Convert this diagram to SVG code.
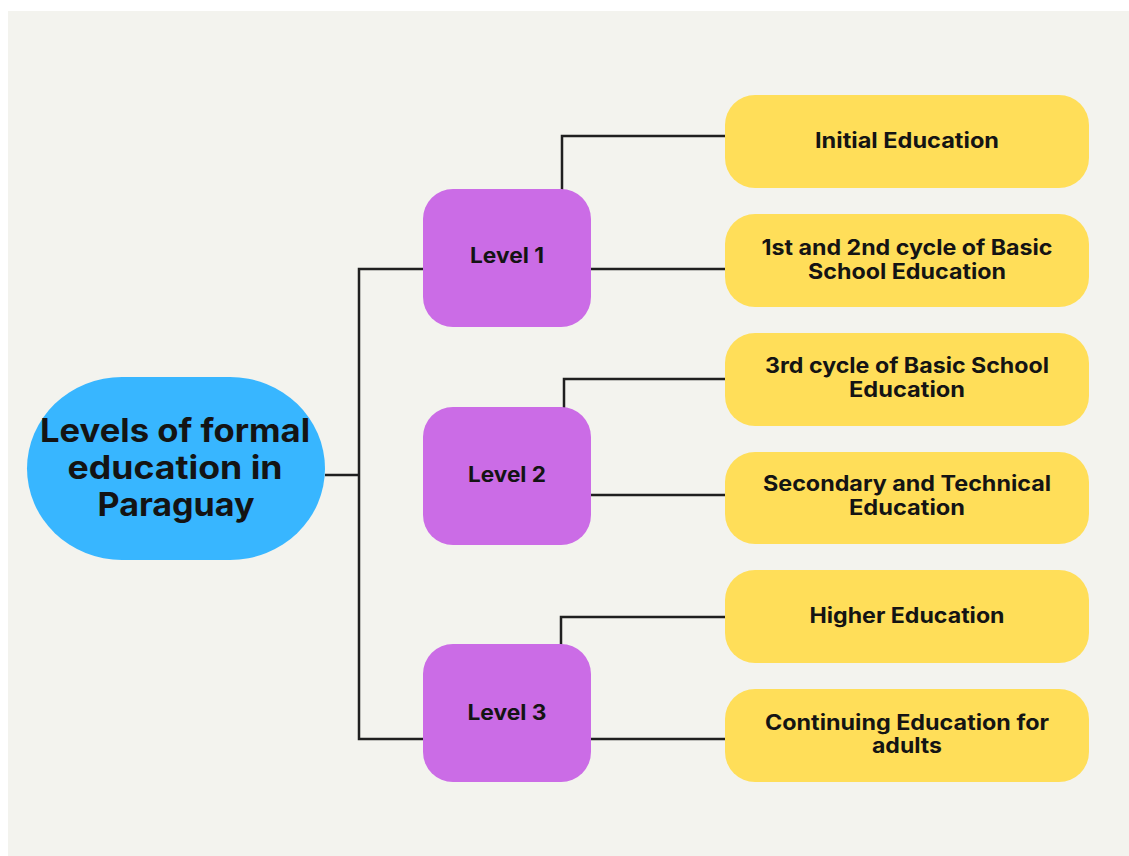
<svg xmlns="http://www.w3.org/2000/svg" width="1129" height="856" viewBox="0 0 1129 856">
  <style>
    .bg { fill: #f3f3ee; }
    .root { fill: #38b6ff; }
    .level { fill: #cb6ce6; }
    .leaf { fill: #ffde59; }
    .link { fill: none; stroke: #1f1f1f; stroke-width: 2.5; stroke-linejoin: miter; }
    text { font-family: "Inter", "DejaVu Sans", "Liberation Sans", sans-serif; font-weight: 700; fill: #141414; text-anchor: middle; }
    .t-root { font-size: 32px; }
    .t-level { font-size: 21px; }
    .t-leaf { font-size: 21px; }
  </style>

  <rect width="1129" height="856" fill="#ffffff"/>
  <rect class="bg" x="8" y="11" width="1121" height="845"/>

  <!-- connectors -->
  <g id="connectors">
    <polyline class="link" points="325,475 359,475"/>
    <polyline class="link" points="424,269 359,269 359,739 424,739"/>
    <polyline class="link" points="562,190 562,136 726,136"/>
    <polyline class="link" points="590,269 726,269"/>
    <polyline class="link" points="564,408 564,379 726,379"/>
    <polyline class="link" points="590,495 726,495"/>
    <polyline class="link" points="561,645 561,617 726,617"/>
    <polyline class="link" points="590,739 726,739"/>
  </g>

  <!-- root -->
  <g id="node-root">
    <rect class="root" x="27" y="377" width="298" height="183" rx="95" ry="91.5"/>
    <text class="t-root" x="175" y="442" textLength="270" lengthAdjust="spacingAndGlyphs">Levels of formal</text>
    <text class="t-root" x="175" y="479" textLength="215" lengthAdjust="spacingAndGlyphs">education in</text>
    <text class="t-root" x="176" y="516" textLength="157" lengthAdjust="spacingAndGlyphs">Paraguay</text>
  </g>

  <!-- levels -->
  <g id="node-level-1">
    <rect class="level" x="423" y="189" width="168" height="138" rx="30"/>
    <text class="t-level" x="507" y="263" textLength="74" lengthAdjust="spacingAndGlyphs">Level 1</text>
  </g>
  <g id="node-level-2">
    <rect class="level" x="423" y="407" width="168" height="138" rx="30"/>
    <text class="t-level" x="507" y="482" textLength="78" lengthAdjust="spacingAndGlyphs">Level 2</text>
  </g>
  <g id="node-level-3">
    <rect class="level" x="423" y="644" width="168" height="138" rx="30"/>
    <text class="t-level" x="507" y="720" textLength="79" lengthAdjust="spacingAndGlyphs">Level 3</text>
  </g>

  <!-- stages -->
  <g id="node-initial">
    <rect class="leaf" x="725" y="95" width="364" height="93" rx="30"/>
    <text class="t-leaf" x="907" y="148" textLength="184" lengthAdjust="spacingAndGlyphs">Initial Education</text>
  </g>
  <g id="node-basic-12">
    <rect class="leaf" x="725" y="214" width="364" height="93" rx="30"/>
    <text class="t-leaf" x="907" y="255" textLength="291" lengthAdjust="spacingAndGlyphs">1st and 2nd cycle of Basic</text>
    <text class="t-leaf" x="907" y="279" textLength="198" lengthAdjust="spacingAndGlyphs">School Education</text>
  </g>
  <g id="node-basic-3">
    <rect class="leaf" x="725" y="333" width="364" height="93" rx="30"/>
    <text class="t-leaf" x="907" y="373" textLength="284" lengthAdjust="spacingAndGlyphs">3rd cycle of Basic School</text>
    <text class="t-leaf" x="907" y="397" textLength="116" lengthAdjust="spacingAndGlyphs">Education</text>
  </g>
  <g id="node-secondary">
    <rect class="leaf" x="725" y="452" width="364" height="92" rx="30"/>
    <text class="t-leaf" x="907" y="491" textLength="288" lengthAdjust="spacingAndGlyphs">Secondary and Technical</text>
    <text class="t-leaf" x="907" y="515" textLength="116" lengthAdjust="spacingAndGlyphs">Education</text>
  </g>
  <g id="node-higher">
    <rect class="leaf" x="725" y="570" width="364" height="93" rx="30"/>
    <text class="t-leaf" x="907" y="623" textLength="195" lengthAdjust="spacingAndGlyphs">Higher Education</text>
  </g>
  <g id="node-continuing">
    <rect class="leaf" x="725" y="689" width="364" height="93" rx="30"/>
    <text class="t-leaf" x="907" y="730" textLength="284" lengthAdjust="spacingAndGlyphs">Continuing Education for</text>
    <text class="t-leaf" x="907" y="753" textLength="70" lengthAdjust="spacingAndGlyphs">adults</text>
  </g>
</svg>
